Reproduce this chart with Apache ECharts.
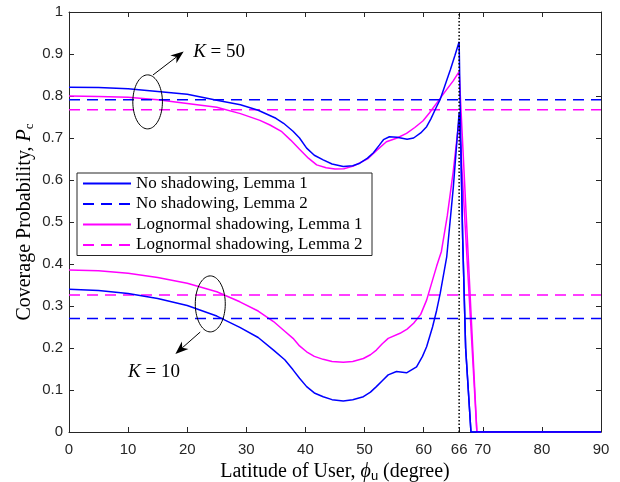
<!DOCTYPE html>
<html>
<head>
<meta charset="utf-8">
<script src="https://cdn.jsdelivr.net/npm/echarts@6/dist/echarts.min.js"></script>
<style>
  html, body { margin: 0; padding: 0; background: #fff; }
  #coverageChart { width: 620px; height: 482px; }
</style>
</head>
<body>
<div id="coverageChart"></div>
<script>
  // latitude ticks (66 marks the special latitude)
  const xTicks = [0, 10, 20, 30, 40, 50, 60, 66, 70, 80, 90];

  // K = 50, no shadowing, Lemma 1
  const latNoShadK50 = [0, 5, 10, 15, 20, 25, 29, 32, 35, 36.3, 37.9, 39, 40.2, 41.5, 43, 44.5, 46.4, 48, 49.2, 50.5, 51.5, 52.5, 53.2, 54.2, 55.5, 57.2, 58.3, 59.5, 60.5, 61.2, 62.2, 62.8, 63.6, 64.5, 65.3, 66, 66.3, 66.6, 67.1, 68, 90];
  const noShadK50 = [0.821, 0.820, 0.817, 0.811, 0.804, 0.790, 0.779, 0.766, 0.747, 0.735, 0.716, 0.700, 0.676, 0.659, 0.648, 0.638, 0.632, 0.634, 0.640, 0.652, 0.665, 0.683, 0.696, 0.703, 0.702, 0.697, 0.700, 0.712, 0.727, 0.745, 0.775, 0.792, 0.825, 0.862, 0.897, 0.929, 0.670, 0.460, 0.200, 0, 0];

  // K = 50, lognormal shadowing, Lemma 1
  const latLogK50 = [0, 5, 10, 15, 20, 25, 29, 32.3, 34, 36, 37.5, 39, 40.5, 41.9, 43.5, 45, 46.5, 48.1, 50.6, 52, 53.7, 55.5, 57.1, 58.5, 59.9, 61, 62.2, 63.5, 65, 66, 69, 90];
  const logK50 = [0.800, 0.799, 0.797, 0.791, 0.782, 0.773, 0.758, 0.742, 0.731, 0.715, 0.695, 0.673, 0.652, 0.636, 0.629, 0.626, 0.627, 0.633, 0.651, 0.670, 0.691, 0.700, 0.711, 0.725, 0.741, 0.760, 0.783, 0.808, 0.836, 0.858, 0, 0];

  // K = 10, no shadowing, Lemma 1
  const latNoShadK10 = [0, 5, 10, 15, 20, 25, 28.9, 32, 34.6, 36.5, 37.9, 39, 40.2, 41.5, 43, 44.5, 46.4, 48, 49.8, 51, 52, 53, 54, 55.4, 57.1, 58.8, 59.8, 60.5, 61.5, 62.2, 62.8, 63.9, 65, 65.5, 66, 66.3, 66.6, 67.1, 68, 90];
  const noShadK10 = [0.340, 0.337, 0.330, 0.318, 0.301, 0.276, 0.249, 0.225, 0.195, 0.172, 0.148, 0.128, 0.108, 0.093, 0.084, 0.077, 0.074, 0.077, 0.084, 0.095, 0.108, 0.122, 0.136, 0.144, 0.141, 0.155, 0.180, 0.203, 0.250, 0.290, 0.330, 0.417, 0.580, 0.670, 0.760, 0.670, 0.460, 0.200, 0, 0];

  // K = 10, lognormal shadowing, Lemma 1
  const latLogK10 = [0, 5, 10, 15, 20, 25, 28.9, 32, 34.6, 36.5, 37.9, 39, 40.2, 41.5, 43, 44.5, 46.4, 48, 49.8, 51, 52, 53, 54, 56, 57.2, 58.3, 59.5, 60.5, 61.3, 62.2, 63, 64, 65, 66, 69, 90];
  const logK10 = [0.386, 0.384, 0.378, 0.368, 0.354, 0.334, 0.310, 0.288, 0.263, 0.240, 0.223, 0.205, 0.191, 0.180, 0.173, 0.168, 0.166, 0.168, 0.175, 0.184, 0.195, 0.210, 0.223, 0.235, 0.245, 0.259, 0.280, 0.314, 0.352, 0.395, 0.430, 0.515, 0.620, 0.745, 0, 0];

  // Lemma 2 (constant over latitude)
  const lemma2NoShad = { k50: 0.791, k10: 0.270 };
  const lemma2Log = { k50: 0.767, k10: 0.326 };

  const names = ['No shadowing, Lemma 1', 'No shadowing, Lemma 2', 'Lognormal shadowing, Lemma 1', 'Lognormal shadowing, Lemma 2'];
  const blue = '#0000ff';
  const magenta = '#ff00ff';
  const axisColor = '#262626';
  const serif = '"Liberation Serif", "DejaVu Serif", serif';
  const sans = '"Liberation Sans", Arial, sans-serif';

  function pairs(xs, ys) {
    return xs.map((x, i) => [x, ys[i]]);
  }
  function flat(v) {
    return [[0, v], [90, v]];
  }
  function curve(name, color, data, dashed, z) {
    return {
      name: name,
      type: 'line',
      data: data,
      symbol: 'none',
      z: z,
      lineStyle: { color: color, width: 1.5, type: dashed ? [11, 7] : 'solid' },
      itemStyle: { color: color }
    };
  }

  const chart = echarts.init(document.getElementById('coverageChart'));

  const option = {
    animation: false,
    grid: { left: 69, right: 19, top: 12, bottom: 50, outerBoundsMode: 'none', containLabel: false },
    legend: {
      data: names,
      orient: 'vertical',
      left: 77,
      top: 173,
      padding: [2, 6, 2, 5],
      itemWidth: 48,
      itemHeight: 17,
      itemGap: 3.5,
      itemStyle: { opacity: 0 },
      backgroundColor: '#fff',
      borderColor: axisColor,
      borderWidth: 1,
      textStyle: { fontFamily: serif, fontSize: 17, lineHeight: 17, color: '#000', width: 230 },
      selectedMode: false
    },
    xAxis: [{
      type: 'value',
      min: 0,
      max: 90,
      name: '{n|Latitude of User, }{i|ϕ}{s|u}{n| (degree)}',
      nameLocation: 'middle',
      nameGap: 23,
      nameTextStyle: {
        rich: {
          n: { fontFamily: serif, fontSize: 20, color: '#000' },
          i: { fontFamily: serif, fontSize: 20, fontStyle: 'italic', color: '#000' },
          s: { fontFamily: sans, fontSize: 13, color: '#000', padding: [9, 0, 0, 0] }
        }
      },
      axisLine: { show: true, lineStyle: { color: axisColor, width: 1 } },
      axisTick: { inside: true, length: 5, customValues: xTicks, lineStyle: { color: axisColor } },
      axisLabel: { customValues: xTicks, margin: 10, fontFamily: sans, fontSize: 15, color: axisColor },
      splitLine: { show: false }
    }, {
      type: 'value',
      position: 'top',
      min: 0,
      max: 90,
      axisLine: { show: true, onZero: false, lineStyle: { color: axisColor, width: 1 } },
      axisTick: { inside: true, length: 5, customValues: xTicks, lineStyle: { color: axisColor } },
      axisLabel: { show: false },
      splitLine: { show: false }
    }],
    yAxis: [{
      type: 'value',
      min: 0,
      max: 1,
      interval: 0.1,
      name: '{n|Coverage Probability, }{i|P}{s|c}',
      nameLocation: 'middle',
      nameRotate: 90,
      nameGap: 33,
      nameMoveOverlap: false,
      nameTextStyle: {
        rich: {
          n: { fontFamily: serif, fontSize: 20, color: '#000' },
          i: { fontFamily: serif, fontSize: 20, fontStyle: 'italic', color: '#000' },
          s: { fontFamily: serif, fontSize: 13, color: '#000', padding: [9, 0, 0, 0] }
        }
      },
      axisLine: { show: true, lineStyle: { color: axisColor, width: 1 } },
      axisTick: { inside: true, length: 5, lineStyle: { color: axisColor } },
      axisLabel: {
        margin: 6,
        fontFamily: sans,
        fontSize: 15,
        color: axisColor,
        formatter: v => (v === 0 || v === 1) ? String(v) : v.toFixed(1)
      },
      splitLine: { show: false }
    }, {
      type: 'value',
      position: 'right',
      min: 0,
      max: 1,
      interval: 0.1,
      axisLine: { show: true, onZero: false, lineStyle: { color: axisColor, width: 1 } },
      axisTick: { inside: true, length: 5, lineStyle: { color: axisColor } },
      axisLabel: { show: false },
      splitLine: { show: false }
    }],
    series: [
      curve(names[0], blue, pairs(latNoShadK50, noShadK50), false, 3),
      curve(names[1], blue, flat(lemma2NoShad.k50), true, 3),
      curve(names[2], magenta, pairs(latLogK50, logK50), false, 2),
      curve(names[3], magenta, flat(lemma2Log.k50), true, 2),
      curve(names[2], magenta, pairs(latLogK10, logK10), false, 2),
      curve(names[3], magenta, flat(lemma2Log.k10), true, 2),
      curve(names[0], blue, pairs(latNoShadK10, noShadK10), false, 4),
      curve(names[1], blue, flat(lemma2NoShad.k10), true, 3),
      {
        name: 'marker',
        type: 'line',
        data: [[66, 0], [66, 1]],
        symbol: 'none',
        z: 5,
        lineStyle: { color: '#000', width: 1.5, type: [1.5, 2] }
      }
    ]
  };
  chart.setOption(option);

  // annotations: ellipses around the curve groups, arrows and K labels
  function px(x, y) {
    return chart.convertToPixel({ gridIndex: 0 }, [x, y]);
  }
  function ellipse(cx, cy, rx, ry) {
    const c = px(cx, cy);
    const pts = [];
    for (let i = 0; i < 72; i++) {
      const a = i / 72 * Math.PI * 2;
      pts.push([c[0] + rx * Math.cos(a), c[1] + ry * Math.sin(a)]);
    }
    return {
      type: 'polygon',
      shape: { points: pts },
      style: { fill: 'none', stroke: '#000', lineWidth: 1 },
      z: 10
    };
  }
  function arrow(from, to) {
    const a = px(from[0], from[1]);
    const b = px(to[0], to[1]);
    const ang = Math.atan2(b[1] - a[1], b[0] - a[0]);
    const len = 13, half = 5;
    const base = [b[0] - len * Math.cos(ang), b[1] - len * Math.sin(ang)];
    const notch = [b[0] - len * 0.7 * Math.cos(ang), b[1] - len * 0.7 * Math.sin(ang)];
    return [{
      type: 'line',
      shape: { x1: a[0], y1: a[1], x2: notch[0], y2: notch[1] },
      style: { stroke: '#000', lineWidth: 1 },
      z: 10
    }, {
      type: 'polygon',
      shape: {
        points: [
          b,
          [base[0] + half * Math.sin(ang), base[1] - half * Math.cos(ang)],
          notch,
          [base[0] - half * Math.sin(ang), base[1] + half * Math.cos(ang)]
        ]
      },
      style: { fill: '#000' },
      z: 10
    }];
  }
  function kLabel(x, y, txt) {
    const p = px(x, y);
    return {
      type: 'text',
      x: p[0],
      y: p[1],
      z: 10,
      style: {
        text: '{i|K}{n| = ' + txt + '}',
        verticalAlign: 'middle',
        rich: {
          i: { fontFamily: serif, fontSize: 19, fontStyle: 'italic', fill: '#000' },
          n: { fontFamily: serif, fontSize: 19, fill: '#000' }
        }
      }
    };
  }

  chart.setOption({
    graphic: [
      ellipse(13.3, 0.786, 14.8, 27),
      ...arrow([14.2, 0.85], [19.4, 0.906]),
      kLabel(21.0, 0.905, '50'),
      ellipse(23.9, 0.305, 15, 28),
      ...arrow([22.2, 0.238], [18.0, 0.186]),
      kLabel(10.0, 0.143, '10')
    ]
  });
</script>
</body>
</html>
